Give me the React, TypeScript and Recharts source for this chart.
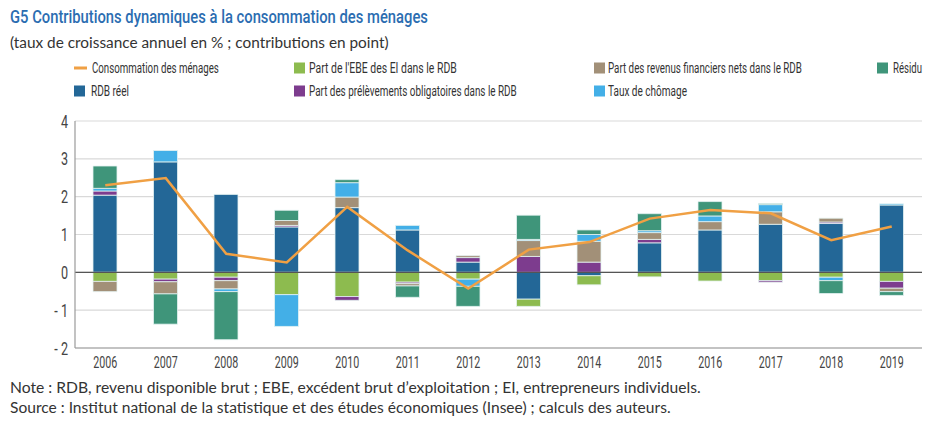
import React from 'react'
import {
  ComposedChart, Bar, Line, XAxis, YAxis, CartesianGrid, ReferenceLine
} from 'recharts'

const years = ['2006', '2007', '2008', '2009', '2010', '2011', '2012', '2013', '2014', '2015', '2016', '2017', '2018', '2019']
const conso = [2.3, 2.49, 0.49, 0.26, 1.73, 0.58, -0.43, 0.6, 0.8, 1.42, 1.65, 1.56, 0.85, 1.21]
const rdb = [2.04, 2.92, 2.06, 1.2, 1.71, 1.12, 0.27, -0.71, -0.09, 0.78, 1.12, 1.27, 1.29, 1.78]
const ebe = [-0.24, -0.18, -0.13, -0.59, -0.64, -0.26, -0.18, -0.19, -0.24, -0.12, -0.23, -0.22, -0.13, -0.24]
const prelev = [0.11, -0.07, -0.09, 0.04, -0.1, -0.04, 0.12, 0.42, 0.27, 0.09, 0, -0.04, 0.04, -0.18]
const revenus = [-0.27, -0.32, -0.22, 0.13, 0.28, -0.06, 0.05, 0.42, 0.55, 0.18, 0.22, 0.33, 0.1, -0.09]
const chomage = [0.07, 0.3, -0.07, -0.84, 0.38, 0.12, -0.19, 0.03, 0.18, 0.05, 0.15, 0.19, -0.09, 0.03]
const residu = [0.59, -0.8, -1.27, 0.27, 0.08, -0.3, -0.53, 0.64, 0.12, 0.45, 0.38, 0.03, -0.34, -0.1]
const yTicks = [-2, -1, 0, 1, 2, 3, 4]

const data = years.map((y, i) => ({
  year: y,
  conso: conso[i],
  rdb: rdb[i],
  ebe: ebe[i],
  prelev: prelev[i],
  revenus: revenus[i],
  chomage: chomage[i],
  residu: residu[i],
}))

const COLORS: Record<string, string> = {
  conso: '#f0a044',
  rdb: '#236797',
  ebe: '#8dbb4f',
  prelev: '#7d3c8e',
  revenus: '#a29078',
  chomage: '#43afe7',
  residu: '#3f957a',
}

// no condensed font installed: Roboto squeezed to the reference widths
const NARROW = 'Roboto, sans-serif'
const BODY = "Lato, 'Open Sans', sans-serif"

// legend: swatch x, text x, text width, row
const legendItems = [
  { key: 'conso', label: 'Consommation des ménages', sx: 74, tx: 92, w: 127, row: 0, line: true },
  { key: 'rdb', label: 'RDB réel', sx: 74, tx: 91, w: 38, row: 1 },
  { key: 'ebe', label: "Part de l'EBE des EI dans le RDB", sx: 294, tx: 309, w: 148, row: 0 },
  { key: 'prelev', label: 'Part des prélèvements obligatoires dans le RDB', sx: 294, tx: 309, w: 208, row: 1 },
  { key: 'revenus', label: 'Part des revenus financiers nets dans le RDB', sx: 594, tx: 608, w: 194, row: 0 },
  { key: 'chomage', label: 'Taux de chômage', sx: 594, tx: 608, w: 79, row: 1 },
  { key: 'residu', label: 'Résidu', sx: 877, tx: 893, w: 29, row: 0 },
]

const fmtY = (v: number) => (v < 0 ? `- ${Math.abs(v)}` : `${v}`)

let ctx: CanvasRenderingContext2D | null = null
function measure(text: string, font: string) {
  if (!ctx) ctx = document.createElement('canvas').getContext('2d')
  if (!ctx) return text.length * 7
  ctx.font = font
  return ctx.measureText(text).width
}

// text squeezed horizontally to a given width
function Squeezed({ x, y, w, size, family, weight = 400, fill, children }: any) {
  const natural = measure(children, `${weight} ${size}px ${family}`)
  const k = natural > 0 ? w / natural : 1
  return (
    <g transform={`translate(${x},${y}) scale(${k},1)`}>
      <text x={0} y={0} fontFamily={family} fontSize={size} fontWeight={weight} fill={fill}>
        {children}
      </text>
    </g>
  )
}

function XTick({ x, y, payload }: any) {
  return (
    <text x={x} y={y + 12} textAnchor="middle" fontFamily={NARROW} fontSize={16} fill="#444"
      textLength={24} lengthAdjust="spacingAndGlyphs">
      {payload.value}
    </text>
  )
}

function YTick({ x, y, payload }: any) {
  return (
    <g transform={`translate(${x + 1},${y}) scale(0.7,1)`}>
      <text x={0} y={0} dy={6.5} textAnchor="end" fontFamily={NARROW} fontSize={18} fill="#444">
        {fmtY(payload.value)}
      </text>
    </g>
  )
}

export default function App() {
  return (
    <div style={{ position: 'absolute', left: 0, top: 0, width: 937, height: 421, background: '#fff' }}>
      <div style={{ position: 'absolute', left: 0, top: 100 }}>
        <ComposedChart width={937} height={276} data={data} stackOffset="sign"
          margin={{ top: 21, right: 15, bottom: 0, left: 0 }}>
          <CartesianGrid vertical={false} stroke="#d9d9d9" strokeWidth={1.2} />
          <XAxis dataKey="year" axisLine={{ stroke: '#9a9a9a', strokeWidth: 1.2 }} tickLine={false}
            height={28} interval={0} tick={<XTick />} />
          <YAxis domain={[-2, 4]} ticks={yTicks} width={75} interval={0}
            axisLine={{ stroke: '#9a9a9a', strokeWidth: 1.2 }} tickLine={false} tick={<YTick />} />
          <YAxis yAxisId="frame" orientation="right" width={0} tick={false} tickLine={false}
            axisLine={{ stroke: '#9a9a9a', strokeWidth: 1.2 }} />
          <ReferenceLine y={0} stroke="#555" strokeWidth={1.2} />
          {(['rdb', 'ebe', 'prelev', 'revenus', 'chomage', 'residu'] as const).map((k) => (
            <Bar key={k} dataKey={k} stackId="a" fill={COLORS[k]} barSize={24}
              stroke="#e4f2f1" strokeWidth={0.8} isAnimationActive={false} />
          ))}
          <Line dataKey="conso" type="linear" stroke={COLORS.conso} strokeWidth={2.5}
            dot={false} activeDot={false} isAnimationActive={false} />
        </ComposedChart>
      </div>

      <svg width={937} height={421} style={{ position: 'absolute', left: 0, top: 0, pointerEvents: 'none' }}>
        <Squeezed x={10} y={23} w={418} size={19} weight={500} family={NARROW} fill="#2b6db1">
          G5 Contributions dynamiques à la consommation des ménages
        </Squeezed>
        <Squeezed x={10} y={48} w={379} size={15} family={BODY} fill="#333">
          (taux de croissance annuel en % ; contributions en point)
        </Squeezed>

        {legendItems.map((it) => {
          const cy = it.row === 0 ? 68 : 91
          return (
            <g key={it.key}>
              {it.line ? (
                <rect x={it.sx} y={cy - 1.5} width={13} height={3} fill={COLORS[it.key]} />
              ) : (
                <rect x={it.sx} y={cy - 5.5} width={11} height={11} fill={COLORS[it.key]} />
              )}
              <Squeezed x={it.tx} y={cy + 5} w={it.w} size={15} family={NARROW} fill="#333">
                {it.label}
              </Squeezed>
            </g>
          )
        })}

        <Squeezed x={10} y={393} w={691} size={15} family={BODY} fill="#333">
          Note : RDB, revenu disponible brut ; EBE, excédent brut d’exploitation ; EI, entrepreneurs individuels.
        </Squeezed>
        <Squeezed x={10} y={413} w={661} size={15} family={BODY} fill="#333">
          Source : Institut national de la statistique et des études économiques (Insee) ; calculs des auteurs.
        </Squeezed>
      </svg>
    </div>
  )
}
